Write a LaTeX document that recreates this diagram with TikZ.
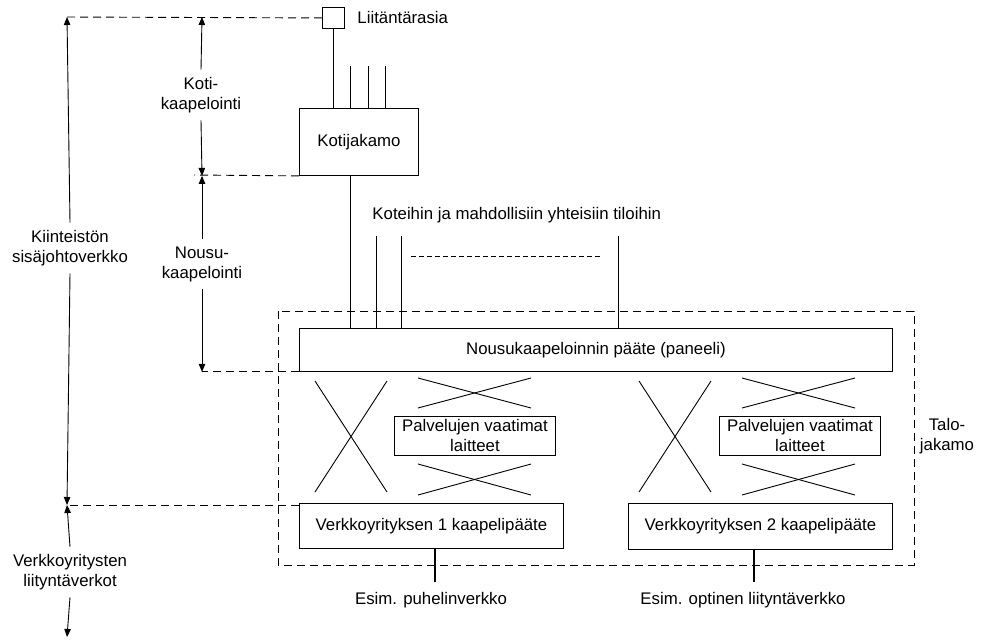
\documentclass[tikz,border=0pt]{standalone}
\usepackage{fontspec}
\setmainfont{Liberation Sans}
\usetikzlibrary{arrows.meta}
\begin{document}
\begin{tikzpicture}[x=1pt,y=-1pt,
  line width=0.9pt,
  lbl/.style={font=\fontsize{16.8}{20}\selectfont, inner sep=0pt, align=center},
  side/.style={lbl, inner sep=7pt},
  box/.style={draw, lbl, anchor=north west},
  arr/.style={-{Triangle[length=8pt,width=6.5pt]}},
  dashline/.style={dash pattern=on 8pt off 5pt},
  fine/.style={dash pattern=on 5pt off 3pt},
  stub/.style={line width=2pt}]
\useasboundingbox (0,0) rectangle (984,640);

% boxes
\node[box, minimum width=22pt, minimum height=21pt] (lr) at (322,7) {};
\node[lbl, anchor=west] (lrtxt) at (357,17) {Liitäntärasia};
\node[box, minimum width=119pt, minimum height=67pt] (kj) at (299,108) {Kotijakamo};
\node[box, minimum width=593pt, minimum height=43pt] (panel) at (299,328) {Nousukaapeloinnin pääte (paneeli)};
\node[box, minimum width=161pt, minimum height=39pt] (pv1) at (394,416) {Palvelujen vaatimat\\laitteet};
\node[box, minimum width=161pt, minimum height=39pt] (pv2) at (719,416) {Palvelujen vaatimat\\laitteet};
\node[box, minimum width=264pt, minimum height=45pt] (v1) at (299,503) {Verkkoyrityksen 1 kaapelipääte};
\node[box, minimum width=264pt, minimum height=46pt] (v2) at (628,503) {Verkkoyrityksen 2 kaapelipääte};

% talojakamo frame
\draw[dashline] (278,311) rectangle (914,565);
\node[lbl] (talo) at (947,436) {Talo-\\jakamo};

% side labels
\node[side] (kiin) at (70,248) {Kiinteistön\\sisäjohtoverkko};
\node[side] (koti) at (201,95) {Koti-\\kaapelointi};
\node[side] (nousu) at (202,264) {Nousu-\\kaapelointi};
\node[side] (verk) at (70,572) {Verkkoyritysten\\liityntäverkot};

% reference levels
\coordinate (kx) at (67,17);
\coordinate (hx) at (202,17);
\coordinate (kb) at (67,505);
\coordinate (vb) at (67,637);
\coordinate (kjl) at (194,175);

% level lines
\draw[dashline] (lr.west) -- (kx);
\draw[dashline] (kj.south west) -- (kjl);
\draw[dashline] (panel.south west) -- (hx |- panel.south);
\draw[dashline] (kb -| v1.west) -- (kb);

% dimension arrows
\draw[arr] (kiin.north) -- (kx);
\draw[arr] (kiin.south) -- (kb);
\draw[arr] (verk.north) -- (kb);
\draw[arr] (verk.south) -- (vb);
\draw[arr] (koti.north) -- (hx);
\draw[arr] (koti.south) -- (hx |- kj.south);
\draw[arr] (nousu.north) -- (hx |- kj.south);
\draw[arr] (nousu.south) -- (hx |- panel.south);

% home cabling
\draw (lr.south) -- (lr.south |- kj.north);
\foreach \x/\n in {350/a,368/b,385/c}{
  \coordinate (top\n) at (\x,66);
  \draw (top\n) -- (top\n |- kj.north);
}

% riser cabling
\node[lbl, anchor=west] (koteihin) at (372,215) {Koteihin ja mahdollisiin yhteisiin tiloihin};
\coordinate (r1) at (350,175);
\draw (r1) -- (r1 |- panel.north);
\foreach \x/\n in {376/a,401/b,618/c}{
  \coordinate (ris\n) at (\x,236);
  \draw (ris\n) -- (ris\n |- panel.north);
}
\coordinate (dotsa) at (411,256);
\coordinate (dotsb) at (601,256);
\draw[fine, line width=0.8pt] (dotsa) -- (dotsb);

% cross connections
\foreach \dx in {0,324}{
  \begin{scope}[xshift=\dx]
    \draw (315,381) -- (387,492);
    \draw (387,381) -- (315,492);
    \draw (418,378) -- (531,408);
    \draw (418,408) -- (531,378);
    \draw (418,464) -- (531,495);
    \draw (418,495) -- (531,464);
  \end{scope}
}

% external networks
\coordinate (e1) at (435,582);
\coordinate (e2) at (754,582);
\draw[stub] (e1 |- v1.south) -- (e1);
\draw[stub] (e2 |- v2.south) -- (e2);
\node[lbl] (esim1) at (431,600) {Esim. puhelinverkko};
\node[lbl] (esim2) at (743,600) {Esim. optinen liityntäverkko};
\end{tikzpicture}
\end{document}
